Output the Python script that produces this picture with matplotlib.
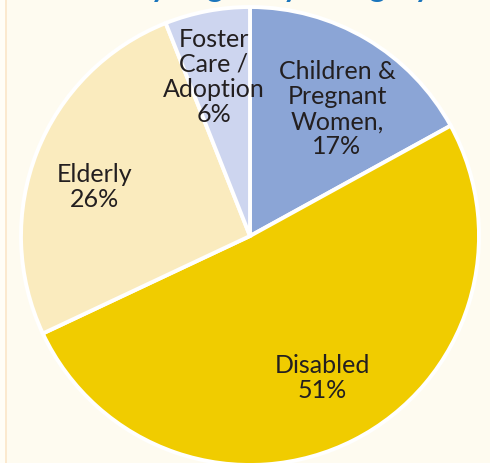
import matplotlib.pyplot as plt
import numpy as np

# enrollment share by eligibility group (percent)
categories = ["Children &\nPregnant\nWomen,", "Disabled", "Elderly", "Foster\nCare /\nAdoption"]
shares = [17, 51, 26, 6]
colors = ["#8ba5d6", "#f0cc00", "#faebbe", "#cdd5ef"]

# label placement: radius fraction and angular nudge from wedge middle (deg)
label_dist = [0.672, 0.695, 0.71, 0.712]
label_turn = [-3.8, 0.0, 4.1, 2.0]

BG = "#fefbf0"
TEXT = "#231f20"

plt.rcParams["font.family"] = ["Lato", "DejaVu Sans"]

fig = plt.figure(figsize=(4.90, 4.63), dpi=100)
fig.patch.set_facecolor(BG)

# thin border strip along the left edge
fig.patches.append(plt.Rectangle((0, 0), 5 / 490, 1, transform=fig.transFigure,
                                 facecolor="#fffdf6", edgecolor="none", zorder=0))
fig.patches.append(plt.Rectangle((5 / 490, 0), 1.5 / 490, 1, transform=fig.transFigure,
                                 facecolor="#fbe9cf", edgecolor="none", zorder=0))

# heading sits above the frame, only its descenders reach in
fig.text(0.44, 1.007, "Enrollees by Eligibility Category", color="#1b75bc",
         fontsize=22, fontweight="bold", ha="center", va="baseline")

R = 229
cx, cy = 250, 463 - 236
ax = fig.add_axes([(cx - R) / 490, (cy - R) / 463, 2 * R / 490, 2 * R / 463])
ax.set_facecolor("none")

wedges, _ = ax.pie(shares, colors=colors, startangle=90, counterclock=False,
                   wedgeprops=dict(edgecolor="white", linewidth=2.8))
for w in wedges:
    w.set_clip_on(False)

for w, lab, val, d, t in zip(wedges, categories, shares, label_dist, label_turn):
    ang = np.deg2rad((w.theta1 + w.theta2) / 2 + t)
    ax.text(d * np.cos(ang), d * np.sin(ang), f"{lab}\n{val}%", ha="center", va="center",
            fontsize=18, color=TEXT, linespacing=1.12)

ax.set_xlim(-1, 1)
ax.set_ylim(-1, 1)
ax.set_aspect("equal")
ax.axis("off")

fig.savefig("out.png", dpi=100, facecolor=BG)
